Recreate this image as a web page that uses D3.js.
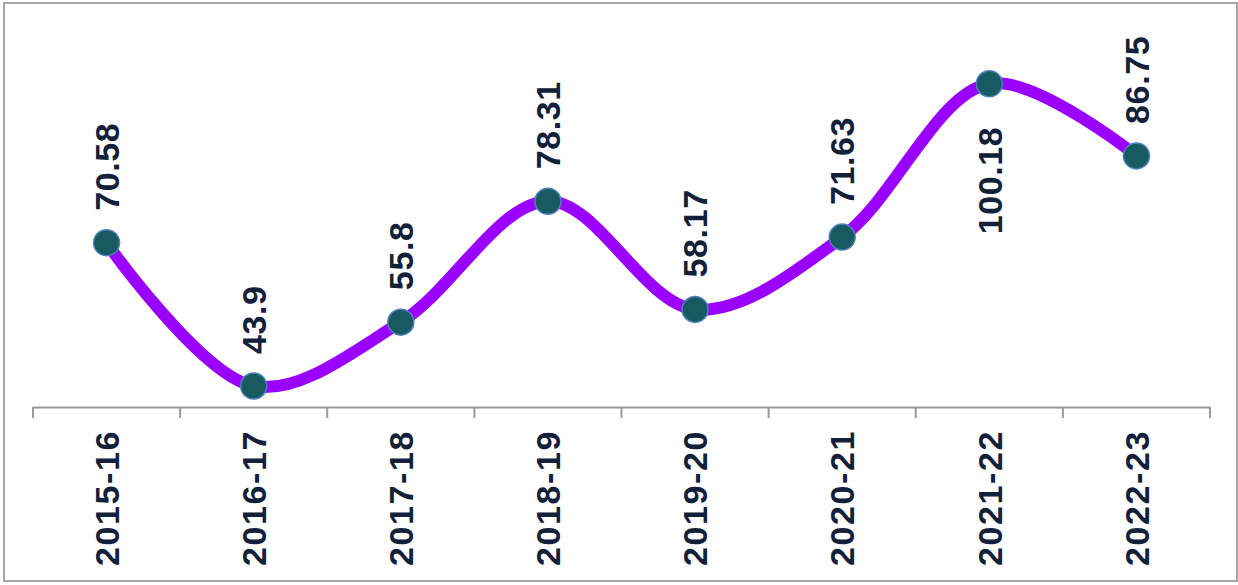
<!DOCTYPE html>
<html>
<head>
<meta charset="utf-8">
<script src="https://cdn.jsdelivr.net/npm/d3@7"></script>
<style>
  html, body { margin: 0; padding: 0; background: #fff; }
  svg { display: block; }
</style>
</head>
<body>
<div id="chart"></div>
<script>
const years = ["2015-16", "2016-17", "2017-18", "2018-19", "2019-20", "2020-21", "2021-22", "2022-23"];
const values = [70.58, 43.9, 55.8, 78.31, 58.17, 71.63, 100.18, 86.75];
// label goes below the point instead of above
const labelBelow = [false, false, false, false, false, false, true, false];

const width = 1238, height = 585;
const margin = { top: 31, right: 28, bottom: 178, left: 33 };

const data = years.map((y, i) => ({ year: y, value: values[i], below: labelBelow[i] }));

const svg = d3.select("#chart")
    .append("svg")
    .attr("width", width)
    .attr("height", height);

// frame
svg.append("rect")
    .attr("x", 4)
    .attr("y", 3)
    .attr("width", 1233)
    .attr("height", 578)
    .attr("fill", "none")
    .attr("stroke", "#a6a6a6")
    .attr("stroke-width", 2);

const x = d3.scaleBand()
    .domain(years)
    .range([margin.left, width - margin.right]);

const y = d3.scaleLinear()
    .domain([40, 110])
    .range([height - margin.bottom, margin.top]);

const cx = d => x(d.year) + x.bandwidth() / 2;

// x axis
const axis = svg.append("g")
    .attr("transform", `translate(0,${height - margin.bottom})`)
    .call(d3.axisBottom(x).tickSize(0).tickFormat(""));
axis.select(".domain").attr("stroke", "#9a9a9a").attr("stroke-width", 2);

// tick marks between categories
const edges = years.map(d => x(d)).concat([width - margin.right]);
axis.selectAll(".sep")
    .data(edges)
    .enter()
    .append("line")
    .attr("x1", d => d)
    .attr("x2", d => d)
    .attr("y1", 0)
    .attr("y2", 11)
    .attr("stroke", "#9a9a9a")
    .attr("stroke-width", 2);

// category labels
svg.selectAll(".cat")
    .data(years)
    .enter()
    .append("text")
    .attr("class", "cat")
    .attr("transform", d => `translate(${x(d) + x.bandwidth() / 2},${height - margin.bottom + 23}) rotate(-90)`)
    .attr("dy", "0.36em")
    .attr("text-anchor", "end")
    .attr("font-family", "Liberation Sans, Arial, sans-serif")
    .attr("font-weight", "bold")
    .attr("font-size", "34px")
    .attr("letter-spacing", "1.6px")
    .attr("fill", "#13203a")
    .text(d => d);

// line
const line = d3.line()
    .x(cx)
    .y(d => y(d.value))
    .curve(d3.curveCatmullRom.alpha(0.5));

svg.append("path")
    .datum(data)
    .attr("d", line)
    .attr("fill", "none")
    .attr("stroke", "#9900ff")
    .attr("stroke-width", 12)
    .attr("stroke-linecap", "round");

// points
svg.selectAll(".pt")
    .data(data)
    .enter()
    .append("circle")
    .attr("class", "pt")
    .attr("cx", cx)
    .attr("cy", d => y(d.value))
    .attr("r", 13)
    .attr("fill", "#175a5f")
    .attr("stroke", "#4f81bd")
    .attr("stroke-width", 1.5);

// value labels
svg.selectAll(".val")
    .data(data)
    .enter()
    .append("text")
    .attr("class", "val")
    .attr("transform", d => `translate(${cx(d)},${y(d.value) + (d.below ? 43 : -32)}) rotate(-90)`)
    .attr("dy", "0.36em")
    .attr("text-anchor", d => d.below ? "end" : "start")
    .attr("font-family", "Liberation Sans, Arial, sans-serif")
    .attr("font-weight", "bold")
    .attr("font-size", "34px")
    .attr("letter-spacing", "0.6px")
    .attr("fill", "#13203a")
    .text(d => d.value);
</script>
</body>
</html>
